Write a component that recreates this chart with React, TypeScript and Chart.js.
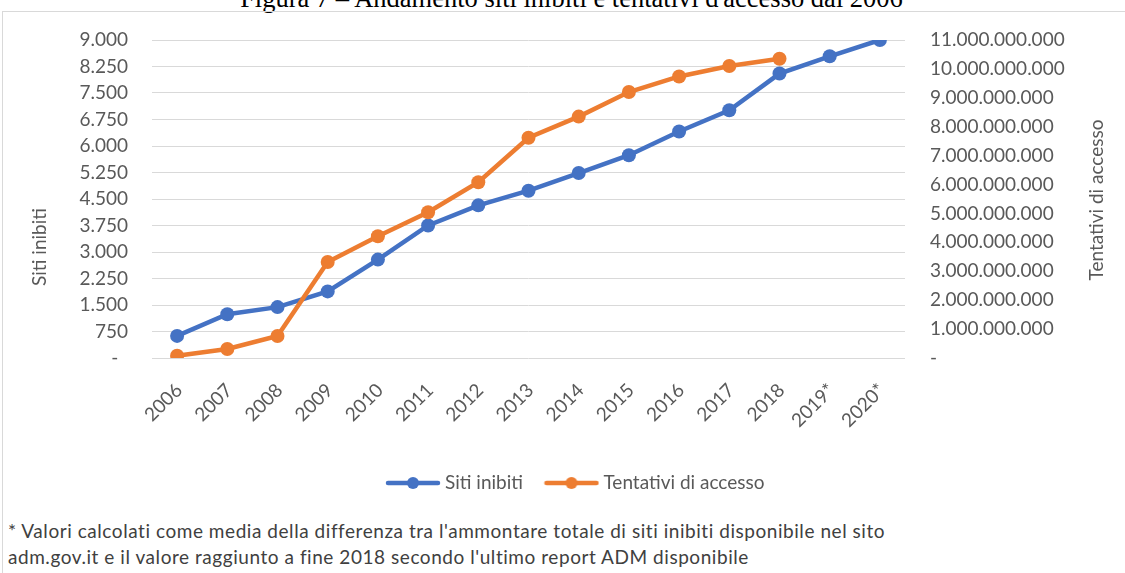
import React, { useEffect, useRef } from "react";
import { Chart, registerables } from "chart.js";

Chart.register(...registerables);

const years = ["2006", "2007", "2008", "2009", "2010", "2011", "2012", "2013", "2014", "2015", "2016", "2017", "2018", "2019*", "2020*"];
const sitiInibiti = [625, 1240, 1440, 1885, 2785, 3750, 4320, 4735, 5235, 5740, 6410, 7010, 8050, 8540, 9000];
const tentativiAccesso = [80e6, 310e6, 760e6, 3.32e9, 4.21e9, 5.04e9, 6.08e9, 7.62e9, 8.35e9, 9.2e9, 9.74e9, 10.1e9, 10.35e9, null, null];
const leftTicks = { min: 0, max: 9000, step: 750 };
const rightTicks = { min: 0, max: 11e9, step: 1e9 };

const TITLE = "Figura 7 – Andamento siti inibiti e tentativi d'accesso dal 2006";
const FOOT1 = "* Valori calcolati come media della differenza tra l'ammontare totale di siti inibiti disponibile nel sito";
const FOOT2 = "adm.gov.it e il valore raggiunto a fine 2018 secondo l'ultimo report ADM disponibile";

const BLUE = "#4472C4";
const ORANGE = "#ED7D31";
const TEXT = "#595959";
const GRID = "#D9D9D9";
const FONT = "Lato";

function fmt(v: number): string {
  if (v === 0) return "-";
  return String(Math.round(v)).replace(/\B(?=(\d{3})+(?!\d))/g, ".");
}

function legendIcon(color: string): HTMLCanvasElement {
  const c = document.createElement("canvas");
  c.width = 56;
  c.height = 16;
  const ctx = c.getContext("2d")!;
  ctx.strokeStyle = color;
  ctx.lineWidth = 4.5;
  ctx.lineCap = "round";
  ctx.beginPath();
  ctx.moveTo(3, 8);
  ctx.lineTo(53, 8);
  ctx.stroke();
  ctx.fillStyle = color;
  ctx.beginPath();
  ctx.arc(28, 8, 6, 0, Math.PI * 2);
  ctx.fill();
  return c;
}

function drawVerticalText(ctx: CanvasRenderingContext2D, text: string, x: number, y: number) {
  ctx.save();
  ctx.translate(x, y);
  ctx.rotate(-Math.PI / 2);
  ctx.font = `19px ${FONT}`;
  ctx.fillStyle = TEXT;
  ctx.textAlign = "center";
  ctx.textBaseline = "middle";
  ctx.fillText(text, 0, 0);
  ctx.restore();
}

export default function App() {
  const ref = useRef<HTMLCanvasElement | null>(null);

  useEffect(() => {
    if (!ref.current) return;
    const icons = [legendIcon(BLUE), legendIcon(ORANGE)];
    const axisTitlesPlugin = {
      id: "axisTitles",
      afterDraw(chart: any) {
        const ctx = chart.ctx;
        drawVerticalText(ctx, "Siti inibiti", 40, 247);
        drawVerticalText(ctx, "Tentativi di accesso", 1097, 200);
      },
    };
    const chart = new Chart(ref.current, {
      type: "line",
      data: {
        labels: years,
        datasets: [
          {
            label: "Siti inibiti",
            data: sitiInibiti,
            yAxisID: "y",
            borderColor: BLUE,
            backgroundColor: BLUE,
            borderWidth: 4.5,
            pointRadius: 7,
            pointBorderWidth: 0,
            pointBackgroundColor: BLUE,
            order: 1,
          },
          {
            label: "Tentativi di accesso",
            data: tentativiAccesso,
            yAxisID: "y2",
            borderColor: ORANGE,
            backgroundColor: ORANGE,
            borderWidth: 4.5,
            pointRadius: 7,
            pointBorderWidth: 0,
            pointBackgroundColor: ORANGE,
            spanGaps: false,
            order: 0,
          },
        ],
      },
      options: {
        responsive: false,
        animation: false,
        layout: { padding: { left: 30, right: 0, top: 40, bottom: 7.5 } },
        font: { family: FONT, size: 19 },
        color: TEXT,
        scales: {
          x: {
            type: "category",
            offset: true,
            grid: { display: false, drawTicks: false },
            border: { display: false },
            ticks: {
              color: TEXT,
              font: { family: FONT, size: 19 },
              minRotation: 45,
              maxRotation: 45,
              autoSkip: false,
              padding: 21,
              labelOffset: 2,
            },
            afterFit: (s: any) => {
              s.height = 89.5;
            },
          },
          y: {
            position: "left",
            min: leftTicks.min,
            max: leftTicks.max,
            grid: { color: GRID, lineWidth: 1, drawTicks: false },
            border: { display: false },
            ticks: {
              stepSize: leftTicks.step,
              color: TEXT,
              font: { family: FONT, size: 19 },
              padding: 24,
              callback: (v: any) => (Number(v) === 0 ? "-  " : fmt(Number(v))),
            },
            afterFit: (s: any) => {
              s.width = 122;
            },
          },
          y2: {
            position: "right",
            min: rightTicks.min,
            max: rightTicks.max,
            grid: { display: false, drawTicks: false },
            border: { display: false },
            ticks: {
              stepSize: rightTicks.step,
              color: TEXT,
              font: { family: FONT, size: 19 },
              padding: 25,
              callback: (v: any) => fmt(Number(v)),
            },
            afterFit: (s: any) => {
              s.width = 220;
            },
          },
        },
        plugins: {
          legend: {
            position: "bottom",
            labels: {
              usePointStyle: true,
              pointStyleWidth: 45,
              padding: 26,
              color: TEXT,
              font: { family: FONT, size: 19 },
              generateLabels: (ch: any) => {
                const items = Chart.defaults.plugins.legend.labels.generateLabels(ch);
                return items
                  .sort((a: any, b: any) => a.datasetIndex - b.datasetIndex)
                  .map((it: any) => ({ ...it, pointStyle: icons[it.datasetIndex] }));
              },
            },
          },
          tooltip: { enabled: false },
        },
      },
      plugins: [axisTitlesPlugin],
    } as any);
    return () => chart.destroy();
  }, []);

  return (
    <div
      style={{
        position: "fixed",
        left: 0,
        top: 0,
        width: 1125,
        height: 573,
        overflow: "hidden",
        background: "#fff",
      }}
    >
      <div
        style={{
          position: "absolute",
          left: 0,
          width: 1143,
          top: -15.5,
          textAlign: "center",
          fontFamily: "'Liberation Serif', 'Times New Roman', serif",
          fontSize: 26.5,
          lineHeight: "26.5px",
          whiteSpace: "nowrap",
          color: "#000",
        }}
      >
        {TITLE}
      </div>
      <div
        style={{
          position: "absolute",
          left: 2,
          top: 11,
          width: 1200,
          height: 700,
          border: `1px solid ${GRID}`,
        }}
      />
      <canvas
        ref={ref}
        width={1125}
        height={510}
        style={{ position: "absolute", left: 0, top: 0, width: 1125, height: 510 }}
      />
      <div
        style={{
          position: "absolute",
          left: 8,
          top: 518,
          fontFamily: FONT,
          fontSize: 19,
          letterSpacing: "0.55px",
          lineHeight: "26px",
          color: "#404040",
          whiteSpace: "nowrap",
        }}
      >
        <div>{FOOT1}</div>
        <div>{FOOT2}</div>
      </div>
    </div>
  );
}
